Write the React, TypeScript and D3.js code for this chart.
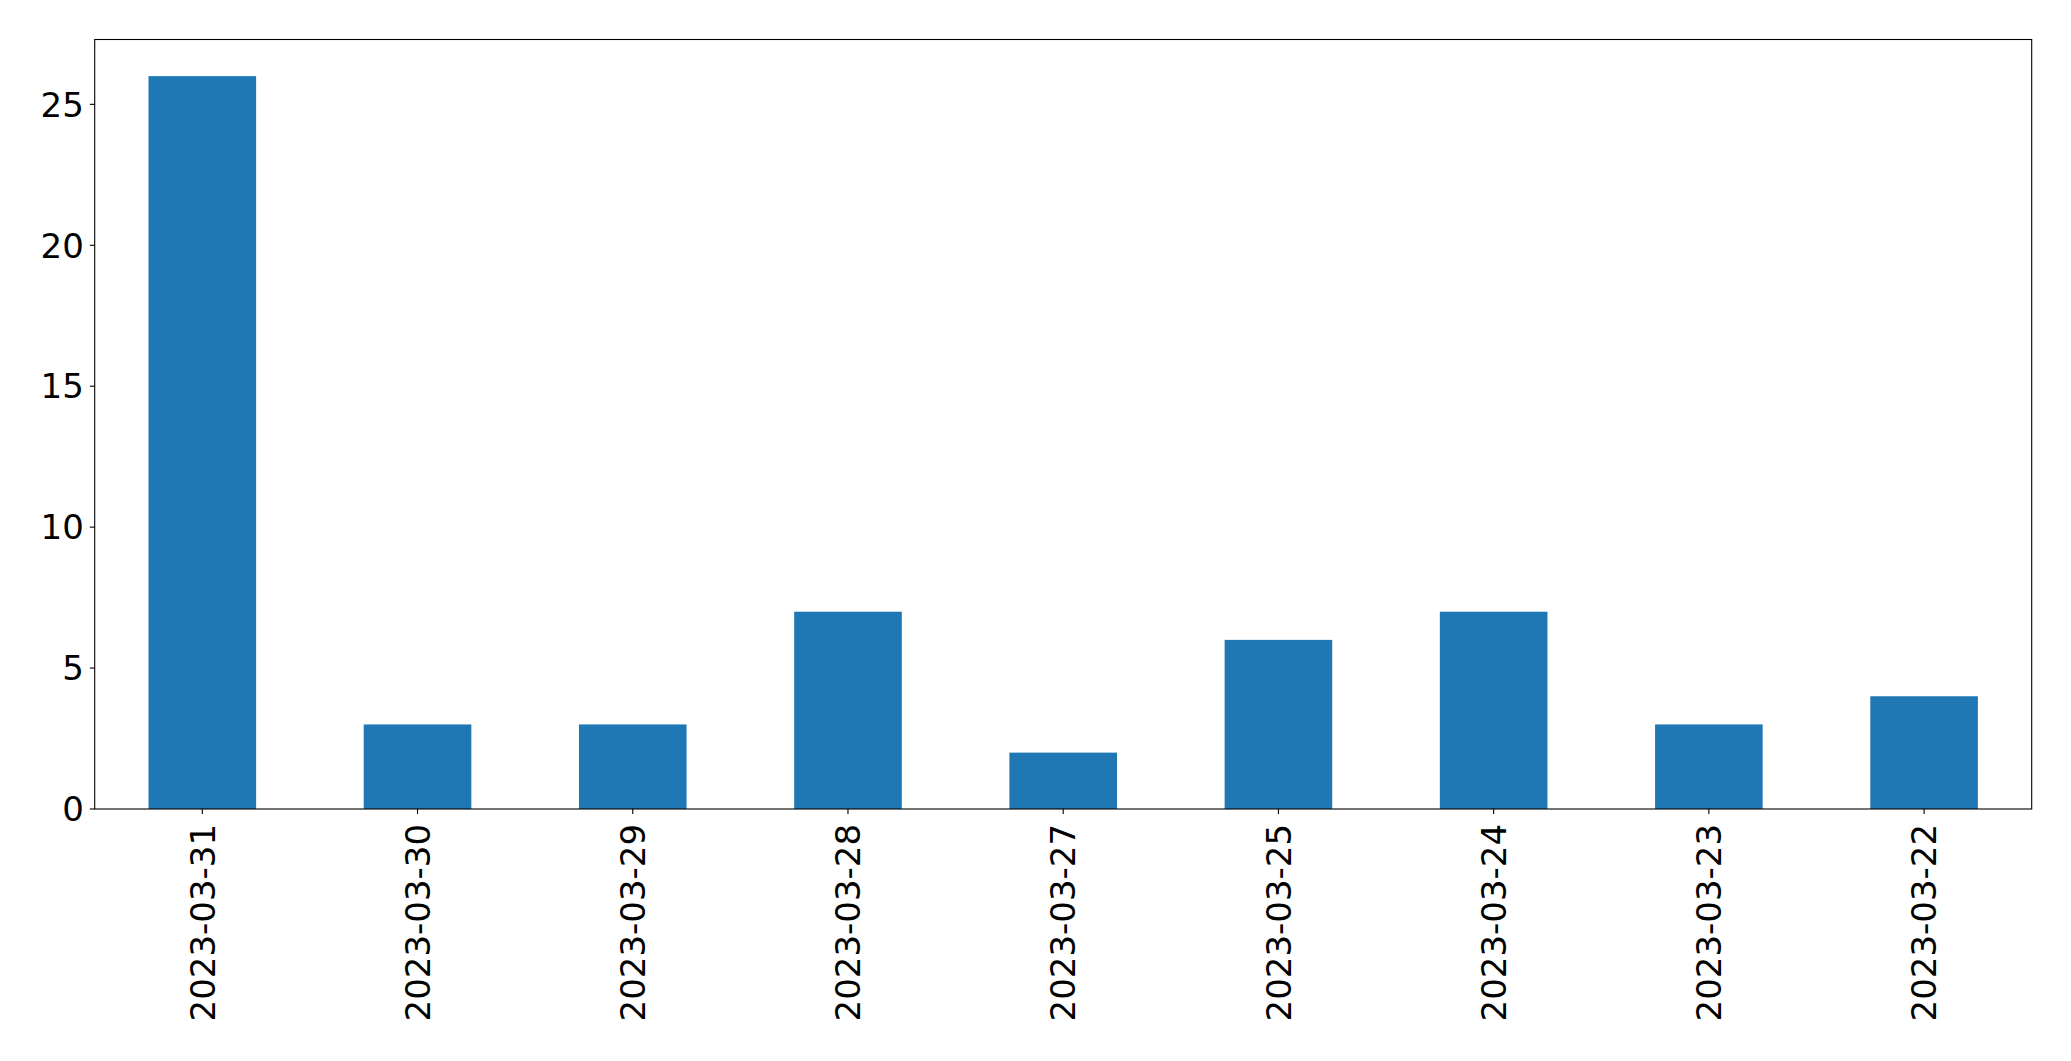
import React, { useEffect, useRef } from "react";
import * as d3 from "d3";

const categories: string[] = [
  "2023-03-31", "2023-03-30", "2023-03-29", "2023-03-28", "2023-03-27",
  "2023-03-25", "2023-03-24", "2023-03-23", "2023-03-22",
];
const values: number[] = [26, 3, 3, 7, 2, 6, 7, 3, 4];
const yTicks: number[] = [0, 5, 10, 15, 20, 25];

const W = 2071;
const H = 1061;
const M = { left: 94.7, right: 2031.7, top: 39.5, bottom: 809 };
const FONT = "DejaVu Sans";
const FS = 34;
const TICK = 4.9;

export default function App() {
  const ref = useRef<SVGSVGElement>(null);
  useEffect(() => {
    document.body.style.margin = "0";
    const svg = d3.select(ref.current);
    svg.selectAll("*").remove();
    const n = categories.length;
    const x = d3.scaleLinear().domain([-0.5, n - 0.5]).range([M.left, M.right]);
    const y = d3.scaleLinear().domain([0, d3.max(values)! * 1.05]).range([M.bottom, M.top]);
    const bw = 0.5;

    svg.append("rect").attr("width", W).attr("height", H).attr("fill", "#fff");

    svg.append("g").selectAll("rect").data(values).join("rect")
      .attr("x", (_, i) => x(i - bw / 2))
      .attr("width", (_, i) => x(i + bw / 2) - x(i - bw / 2))
      .attr("y", (d) => y(d))
      .attr("height", (d) => y(0) - y(d))
      .attr("fill", "#1f77b4");

    // frame
    svg.append("rect")
      .attr("x", M.left).attr("y", M.top)
      .attr("width", M.right - M.left).attr("height", M.bottom - M.top)
      .attr("fill", "none").attr("stroke", "#000").attr("stroke-width", 1.1);

    // y ticks
    const gy = svg.append("g");
    yTicks.forEach((t) => {
      gy.append("line").attr("x1", M.left - TICK).attr("x2", M.left)
        .attr("y1", y(t)).attr("y2", y(t)).attr("stroke", "#000").attr("stroke-width", 1.1);
      gy.append("text").attr("x", M.left - TICK - 6).attr("y", y(t))
        .attr("dy", "0.36em").attr("text-anchor", "end")
        .attr("font-family", FONT).attr("font-size", FS).attr("fill", "#000")
        .text(String(t));
    });

    // x ticks
    const gx = svg.append("g");
    categories.forEach((c, i) => {
      const cx = x(i);
      gx.append("line").attr("x1", cx).attr("x2", cx)
        .attr("y1", M.bottom).attr("y2", M.bottom + TICK).attr("stroke", "#000").attr("stroke-width", 1.1);
      gx.append("text")
        .attr("transform", `translate(${cx},${M.bottom + TICK + 10}) rotate(-90)`)
        .attr("dy", "0.36em").attr("text-anchor", "end")
        .attr("font-family", FONT).attr("font-size", FS).attr("fill", "#000")
        .text(c);
    });
  }, []);
  return (
    <svg ref={ref} width={W} height={H} style={{ display: "block", position: "absolute", left: 0, top: 0 }} />
  );
}
